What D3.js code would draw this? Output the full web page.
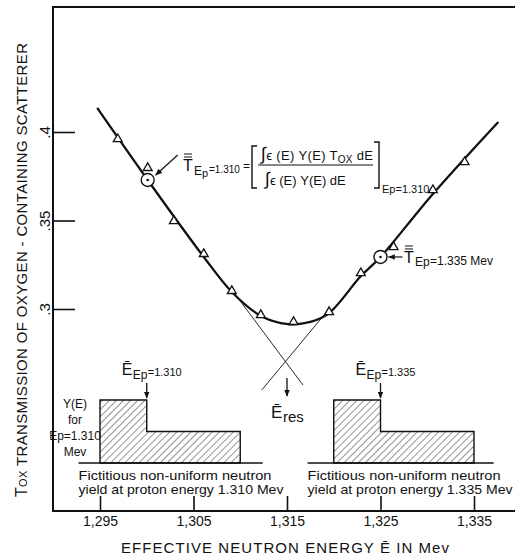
<!DOCTYPE html>
<html>
<head>
<meta charset="utf-8">
<script src="https://cdn.jsdelivr.net/npm/d3@7"></script>
<style>
  html, body { margin: 0; padding: 0; background: #fff; }
  svg { display: block; }
  text { font-family: "Liberation Sans", "DejaVu Sans", sans-serif; fill: #111; }
</style>
</head>
<body>
<div id="chart"></div>
<script>
// smooth transmission curve drawn through the points (energy in Mev, transmission)
const curveE = [1.2947, 1.3001, 1.3061, 1.3091, 1.3122, 1.3151, 1.3175, 1.3195, 1.3229, 1.3250, 1.3306, 1.3376];
const curveT = [0.4136, 0.3729, 0.3294, 0.3096, 0.2961, 0.2915, 0.2927, 0.2977, 0.3186, 0.3294, 0.3650, 0.4057];

// measured points (triangles)
const pointE = [1.2969, 1.3001, 1.3029, 1.3061, 1.3091, 1.3122, 1.3157, 1.3195, 1.3229, 1.3264, 1.3306, 1.3340];
const pointT = [0.3960, 0.3797, 0.3497, 0.3311, 0.3102, 0.2966, 0.2927, 0.2983, 0.3203, 0.3350, 0.3672, 0.3830];

// averaged transmissions (circled points)
const meanE = [1.3001, 1.3250];
const meanT = [0.3729, 0.3294];

// the two straight lines that cross at E res
const tangentLeftE = [1.3100, 1.3167];
const tangentLeftT = [0.3045, 0.2571];
const tangentRightE = [1.3194, 1.3123];
const tangentRightT = [0.2994, 0.2542];
const eRes = 1.3150;

// axis ticks
const xTicks = [1.295, 1.305, 1.315, 1.325, 1.335];
const xTickLabels = ["1,295", "1,305", "1,315", "1,325", "1,335"];
const yTicks = [0.30, 0.35, 0.40];
const yTickLabels = [".3", ".35", ".4"];

// fictitious neutron yields Y(E), relative units
const yieldLeftEdges = [1.295, 1.300, 1.310];
const yieldLeftHeights = [2, 1];
const yieldLeftBase = [1.2927, 1.3124];
const yieldRightEdges = [1.320, 1.325, 1.335];
const yieldRightHeights = [2, 1];
const yieldRightBase = [1.3172, 1.3371];
const yieldMeans = [1.300, 1.325];

const W = 515, H = 556;
const frame = {left: 53, top: 7, bottom: 511};

const svg = d3.select("#chart").append("svg")
  .attr("width", W)
  .attr("height", H);

const x = d3.scaleLinear().domain([1.295, 1.335]).range([100, 474]);
const y = d3.scaleLinear().domain([0.30, 0.40]).range([309, 132]);
const yy = d3.scaleLinear().domain([0, 2]).range([463, 400]);

const ink = "#111";

// hatching for the yield blocks
const defs = svg.append("defs");
defs.append("pattern")
    .attr("id", "hatch")
    .attr("patternUnits", "userSpaceOnUse")
    .attr("width", 5)
    .attr("height", 5)
    .attr("patternTransform", "rotate(45)")
  .append("line")
    .attr("x1", 0).attr("y1", 0)
    .attr("x2", 0).attr("y2", 5)
    .attr("stroke", ink)
    .attr("stroke-width", 0.9);

defs.append("marker")
    .attr("id", "head")
    .attr("viewBox", "0 0 10 10")
    .attr("refX", 9).attr("refY", 5)
    .attr("markerWidth", 7).attr("markerHeight", 7)
    .attr("markerUnits", "userSpaceOnUse")
    .attr("orient", "auto")
  .append("path")
    .attr("d", "M0,1 L10,5 L0,9 Z")
    .attr("fill", ink);

// frame: top, left and bottom lines
svg.append("path")
  .attr("d", `M${W},${frame.top} H${frame.left} V${frame.bottom} H${W}`)
  .attr("fill", "none")
  .attr("stroke", ink)
  .attr("stroke-width", 2);

// x axis
const gx = svg.append("g")
  .attr("transform", `translate(0,${frame.bottom})`)
  .call(d3.axisBottom(x)
    .tickValues(xTicks)
    .tickSize(-15)
    .tickPadding(5)
    .tickFormat((d, i) => xTickLabels[i]));
gx.select(".domain").remove();
gx.selectAll(".tick line").attr("stroke", ink).attr("stroke-width", 1.6);
gx.selectAll(".tick text")
  .style("font-family", "'Liberation Sans', sans-serif")
  .style("font-size", "14px")
  .attr("fill", ink);

// y axis, labels turned like the title
const gy = svg.append("g")
  .attr("transform", `translate(${frame.left},0)`)
  .call(d3.axisLeft(y)
    .tickValues(yTicks)
    .tickSize(-22)
    .tickFormat((d, i) => yTickLabels[i]));
gy.select(".domain").remove();
gy.selectAll(".tick line").attr("stroke", ink).attr("stroke-width", 1.6);
gy.selectAll(".tick text")
  .attr("transform", "rotate(-90)")
  .attr("x", 0)
  .attr("y", -3)
  .attr("dy", 0)
  .attr("text-anchor", "middle")
  .style("font-family", "'Liberation Sans', sans-serif")
  .style("font-size", "15px")
  .attr("fill", ink);

// y title
const yTitle = svg.append("text")
  .attr("transform", "translate(27,270) rotate(-90)")
  .attr("text-anchor", "middle")
  .attr("textLength", 454)
  .attr("lengthAdjust", "spacing")
  .style("font-size", "15px");
yTitle.append("tspan").text("T").style("font-size", "16px");
yTitle.append("tspan").text("OX").style("font-size", "11px");
yTitle.append("tspan").text("  TRANSMISSION  OF  OXYGEN - CONTAINING  SCATTERER");

// x title
svg.append("text")
  .attr("x", 121)
  .attr("y", 553)
  .attr("textLength", 328)
  .attr("lengthAdjust", "spacing")
  .style("font-size", "15px")
  .text("EFFECTIVE  NEUTRON  ENERGY  Ē  IN  Mev");

// tangent lines
const tangentLine = d3.line().x(d => x(d[0])).y(d => y(d[1]));
[[tangentLeftE, tangentLeftT], [tangentRightE, tangentRightT]].forEach(([es, ts]) => {
  svg.append("path")
    .attr("d", tangentLine(es.map((e, i) => [e, ts[i]])))
    .attr("fill", "none")
    .attr("stroke", ink)
    .attr("stroke-width", 0.9);
});

// curve
const curve = d3.line()
  .x(d => x(d[0]))
  .y(d => y(d[1]))
  .curve(d3.curveCatmullRom.alpha(0.5));
svg.append("path")
  .attr("d", curve(curveE.map((e, i) => [e, curveT[i]])))
  .attr("fill", "none")
  .attr("stroke", ink)
  .attr("stroke-width", 2.3);

// triangles
svg.append("g").selectAll("path")
  .data(pointE.map((e, i) => [e, pointT[i]]))
  .join("path")
    .attr("transform", d => `translate(${x(d[0])},${y(d[1])})`)
    .attr("d", d3.symbol(d3.symbolTriangle, 34))
    .attr("fill", "#fff")
    .attr("stroke", ink)
    .attr("stroke-width", 1.3);

// circled mean points
const means = svg.append("g").selectAll("g")
  .data(meanE.map((e, i) => [e, meanT[i]]))
  .join("g")
    .attr("transform", d => `translate(${x(d[0])},${y(d[1])})`);
means.append("circle").attr("r", 6.5).attr("fill", "#fff").attr("stroke", ink).attr("stroke-width", 1.4);
means.append("circle").attr("r", 1.3).attr("fill", ink);

// arrows to the circles
const c1 = [x(meanE[0]), y(meanT[0])];
const c2 = [x(meanE[1]), y(meanT[1])];
svg.append("line")
  .attr("x1", c1[0] + 30).attr("y1", c1[1] - 25)
  .attr("x2", c1[0] + 8).attr("y2", c1[1] - 5)
  .attr("stroke", ink).attr("stroke-width", 1.2)
  .attr("marker-end", "url(#head)");
svg.append("line")
  .attr("x1", c2[0] + 22).attr("y1", c2[1])
  .attr("x2", c2[0] + 8).attr("y2", c2[1])
  .attr("stroke", ink).attr("stroke-width", 1.2)
  .attr("marker-end", "url(#head)");

// T with a double bar; baseline at (tx, ty)
function barredT(tx, ty) {
  svg.append("text").attr("x", tx).attr("y", ty).style("font-size", "16px").text("T");
  [2.5, 5.5].forEach(off => {
    svg.append("line")
      .attr("x1", tx + 1).attr("x2", tx + 9)
      .attr("y1", ty - 11.5 - off).attr("y2", ty - 11.5 - off)
      .attr("stroke", ink).attr("stroke-width", 1);
  });
}

// left formula
barredT(183, 171);
svg.append("text").attr("x", 194).attr("y", 175).style("font-size", "12px").text("E");
svg.append("text").attr("x", 202).attr("y", 177).style("font-size", "11px").text("p");
svg.append("text").attr("x", 209).attr("y", 173).style("font-size", "10px").text("=1.310");
svg.append("text").attr("x", 243).attr("y", 170).style("font-size", "12px").text("=");

svg.append("path")
  .attr("d", "M257,146 H252 V188 H257 M374,142 H379 V188 H374")
  .attr("fill", "none").attr("stroke", ink).attr("stroke-width", 1.4);

const num = svg.append("text").attr("x", 261).attr("y", 160)
  .attr("textLength", 112).attr("lengthAdjust", "spacing")
  .style("font-size", "13px");
num.append("tspan").text("∫").style("font-size", "18px");
num.append("tspan").text("ϵ (E) Y(E) T");
num.append("tspan").text("OX").attr("dy", 3).style("font-size", "10px");
num.append("tspan").text(" dE").attr("dy", -3);

svg.append("line")
  .attr("x1", 258).attr("x2", 373).attr("y1", 165).attr("y2", 165)
  .attr("stroke", ink).attr("stroke-width", 1.2);

const den = svg.append("text").attr("x", 265).attr("y", 185).style("font-size", "13px");
den.append("tspan").text("∫").style("font-size", "18px");
den.append("tspan").text("ϵ (E) Y(E) dE");

svg.append("text").attr("x", 382).attr("y", 193).style("font-size", "11px").text("Ep=1.310");

// right label
barredT(404, c2[1] + 6);
svg.append("text").attr("x", 415).attr("y", c2[1] + 9).style("font-size", "12px").text("Ep");
svg.append("text").attr("x", 430).attr("y", c2[1] + 8).style("font-size", "12px").text("=1.335 Mev");

// E res arrow and label
svg.append("line")
  .attr("x1", x(eRes)).attr("x2", x(eRes))
  .attr("y1", 378).attr("y2", 396)
  .attr("stroke", ink).attr("stroke-width", 1.3)
  .attr("marker-end", "url(#head)");
svg.append("text").attr("x", x(eRes) - 16).attr("y", 418).style("font-size", "17px").text("Ē");
svg.append("text").attr("x", x(eRes) - 4).attr("y", 422).style("font-size", "15px").text("res");

// yield histograms
function histogram(edges, heights, base, mean, label, ep) {
  const g = svg.append("g");
  g.append("line")
    .attr("x1", x(base[0])).attr("x2", x(base[1]))
    .attr("y1", yy(0)).attr("y2", yy(0))
    .attr("stroke", ink).attr("stroke-width", 1.4);

  let d = `M${x(edges[0])},${yy(0)}`;
  heights.forEach((h, i) => {
    d += ` V${yy(h)} H${x(edges[i + 1])}`;
  });
  d += ` V${yy(0)} Z`;
  g.append("path")
    .attr("d", d)
    .attr("fill", "url(#hatch)")
    .attr("stroke", ink)
    .attr("stroke-width", 1.4);

  g.append("line")
    .attr("x1", x(mean)).attr("x2", x(mean))
    .attr("y1", yy(2) - 17).attr("y2", yy(2) - 2)
    .attr("stroke", ink).attr("stroke-width", 1.3)
    .attr("marker-end", "url(#head)");

  const lx = x(mean) - 25;
  g.append("text").attr("x", lx).attr("y", yy(2) - 25).style("font-size", "16px").text("Ē");
  g.append("text").attr("x", lx + 11).attr("y", yy(2) - 21).style("font-size", "12px").text("Ep");
  g.append("text").attr("x", lx + 26).attr("y", yy(2) - 24).style("font-size", "11px").text("=" + ep);

  const tx = x(base[0]) + 0;
  g.append("text").attr("x", tx).attr("y", yy(0) + 17)
    .attr("textLength", 193).attr("lengthAdjust", "spacingAndGlyphs")
    .style("font-size", "13px")
    .text("Fictitious non-uniform neutron");
  g.append("text").attr("x", tx).attr("y", yy(0) + 31)
    .attr("textLength", 205).attr("lengthAdjust", "spacingAndGlyphs")
    .style("font-size", "13px")
    .text("yield at proton energy " + label);
}
histogram(yieldLeftEdges, yieldLeftHeights, yieldLeftBase, yieldMeans[0], "1.310 Mev", "1.310");
histogram(yieldRightEdges, yieldRightHeights, yieldRightBase, yieldMeans[1], "1.335 Mev", "1.335");

// Y(E) caption for the left block
const capX = 75;
[["Y(E)", 408], ["for", 424], ["Ep=1.310", 440], ["Mev", 456]].forEach(([t, cy]) => {
  svg.append("text")
    .attr("x", capX).attr("y", cy)
    .attr("text-anchor", "middle")
    .style("font-size", "12px")
    .text(t);
});
</script>
</body>
</html>
